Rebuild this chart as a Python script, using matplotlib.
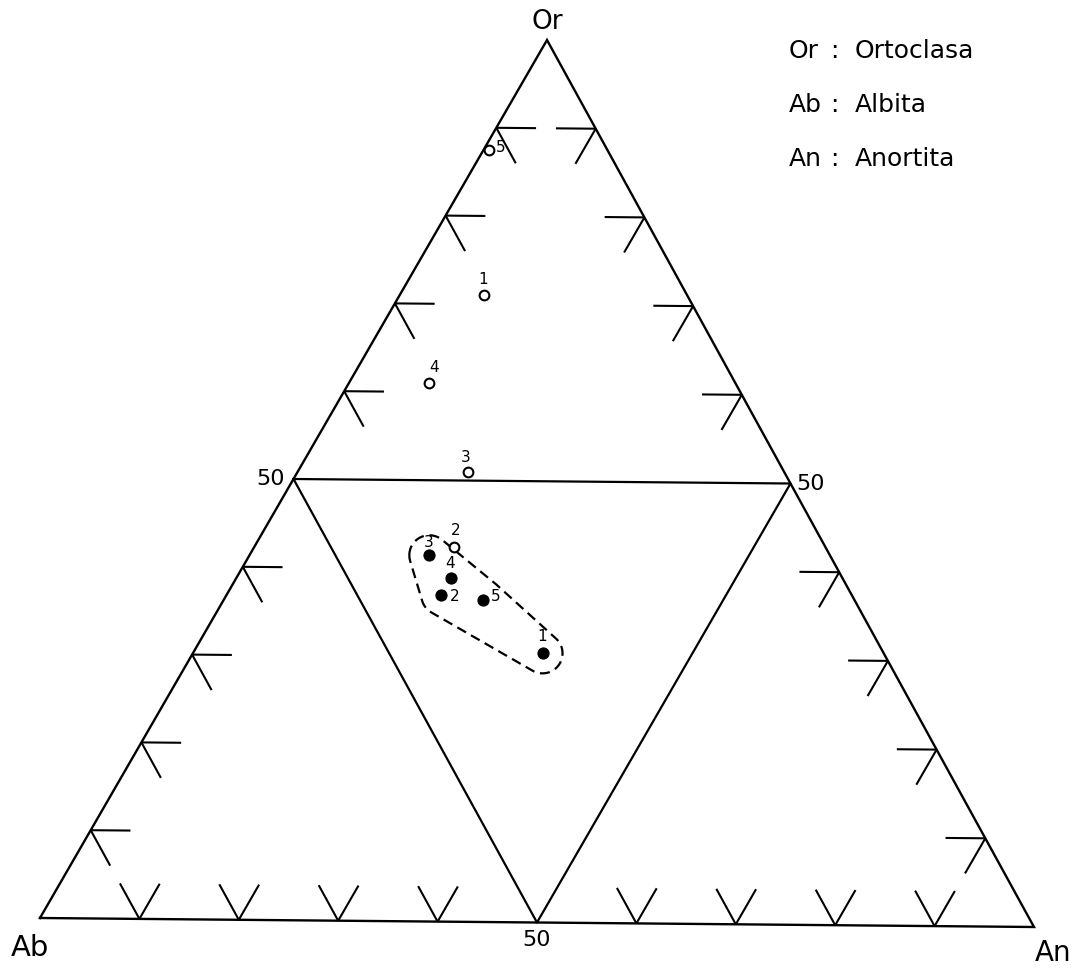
import numpy as np
import matplotlib
matplotlib.use("Agg")
import matplotlib.pyplot as plt

# feldspar compositions in percent: Or, Ab, An
open_ids = ["1", "2", "3", "4", "5"]
open_or = [71, 42.5, 51, 61, 87.5]
open_ab = [20.5, 37.5, 32, 31, 12]
open_an = [8.5, 20, 17, 8, 0.5]

fill_ids = ["1", "2", "3", "4", "5"]
fill_or = [30.5, 37, 41.5, 39, 36.5]
fill_ab = [34.5, 41.5, 40.5, 39.5, 37.5]
fill_an = [35, 21.5, 18, 21.5, 26]

tick_values = [10, 20, 30, 40, 60, 70, 80, 90]

legend_abbr = ["Or", "Ab", "An"]
legend_names = ["Ortoclasa", "Albita", "Anortita"]

# number label offsets (pixels)
open_offsets = [(-1, 16), (1, 16), (-2, 14), (5, 16), (12, 2)]
fill_offsets = [(0, 17), (13, -1), (-1, 13), (-1, 14), (12, 3)]

# corners of the diagram on the canvas (pixels)
OR_XY = np.array([547.0, 40.0])
AB_XY = np.array([40.0, 918.0])
AN_XY = np.array([1034.0, 927.0])
CORNERS = np.array([OR_XY, AB_XY, AN_XY])


def tern(o, ab, an):
    c = np.column_stack([np.atleast_1d(o), np.atleast_1d(ab), np.atleast_1d(an)]).astype(float)
    c = c / c.sum(axis=1, keepdims=True)
    p = c @ CORNERS
    return p[:, 0], p[:, 1]


def hull(pts):
    pts = sorted(map(tuple, pts))

    def cross(o, a, b):
        return (a[0] - o[0]) * (b[1] - o[1]) - (a[1] - o[1]) * (b[0] - o[0])

    lower, upper = [], []
    for p in pts:
        while len(lower) >= 2 and cross(lower[-2], lower[-1], p) <= 0:
            lower.pop()
        lower.append(p)
    for p in reversed(pts):
        while len(upper) >= 2 and cross(upper[-2], upper[-1], p) <= 0:
            upper.pop()
        upper.append(p)
    return np.array(lower[:-1] + upper[:-1])


fig = plt.figure(figsize=(10.82, 9.68), dpi=100)
ax = fig.add_axes([0, 0, 1, 1])
ax.set_xlim(0, 1082)
ax.set_ylim(968, 0)
ax.axis("off")

# outer triangle
x, y = tern([0, 0, 100, 0], [100, 0, 0, 100], [0, 100, 0, 0])
ax.plot(x, y, "k", lw=1.7, solid_joinstyle="miter")

# inner triangle joining the 50 points
x, y = tern([50, 50, 0, 50], [50, 0, 50, 50], [0, 50, 50, 0])
ax.plot(x, y, "k", lw=1.6)

# tick stubs along each side
L = 4
for zero in range(3):
    i, j = [k for k in range(3) if k != zero]
    for t in tick_values:
        p = np.zeros(3)
        p[i] = t
        p[j] = 100 - t
        for keep in (i, j):
            other = j if keep == i else i
            q = p.copy()
            q[other] -= L
            q[zero] += L
            seg = np.array([p, q])
            sx, sy = tern(seg[:, 0], seg[:, 1], seg[:, 2])
            ax.plot(sx, sy, "k", lw=1.5, solid_capstyle="butt")

# dashed envelope round the filled points
fx, fy = tern(fill_or, fill_ab, fill_an)
ang = np.linspace(0, 2 * np.pi, 72, endpoint=False)
r = 20
ring = np.concatenate([np.column_stack([px + r * np.cos(ang), py + r * np.sin(ang)])
                       for px, py in zip(fx, fy)])
h = hull(ring)
h = np.vstack([h, h[:1]])
ax.plot(h[:, 0], h[:, 1], "k", lw=1.6, dashes=(4.5, 2.6))

# points
ox, oy = tern(open_or, open_ab, open_an)
ax.plot(ox, oy, "o", mfc="white", mec="k", ms=7, mew=1.5, zorder=3)
ax.plot(fx, fy, "o", mfc="k", mec="k", ms=8, mew=0.8, zorder=3)

for lbl, px, py, off in zip(open_ids, ox, oy, open_offsets):
    ax.annotate(lbl, (px, py), xytext=off, textcoords="offset pixels",
                ha="center", va="center", fontsize=11)
for lbl, px, py, off in zip(fill_ids, fx, fy, fill_offsets):
    ax.annotate(lbl, (px, py), xytext=off, textcoords="offset pixels",
                ha="center", va="center", fontsize=11)

# corner and 50 labels
ax.annotate("Or", tuple(OR_XY), xytext=(0, 18), textcoords="offset pixels",
            ha="center", va="center", fontsize=19)
ax.annotate("Ab", tuple(AB_XY), xytext=(-10, -30), textcoords="offset pixels",
            ha="center", va="center", fontsize=21)
ax.annotate("An", tuple(AN_XY), xytext=(19, -26), textcoords="offset pixels",
            ha="center", va="center", fontsize=20)

x50, y50 = tern([50, 50, 0], [50, 0, 50], [0, 50, 50])
ax.annotate("50", (x50[0], y50[0]), xytext=(-9, 0), textcoords="offset pixels",
            ha="right", va="center", fontsize=16)
ax.annotate("50", (x50[1], y50[1]), xytext=(6, 0), textcoords="offset pixels",
            ha="left", va="center", fontsize=16)
ax.annotate("50", (x50[2], y50[2]), xytext=(0, -18), textcoords="offset pixels",
            ha="center", va="center", fontsize=16)

# key in the upper right
for k, (ab, nm) in enumerate(zip(legend_abbr, legend_names)):
    yy = 51 + 54 * k
    ax.text(789, yy, ab, ha="left", va="center", fontsize=18)
    ax.text(834, yy, ":", ha="center", va="center", fontsize=18)
    ax.text(855, yy, nm, ha="left", va="center", fontsize=18)

fig.savefig("out.png", dpi=100)
